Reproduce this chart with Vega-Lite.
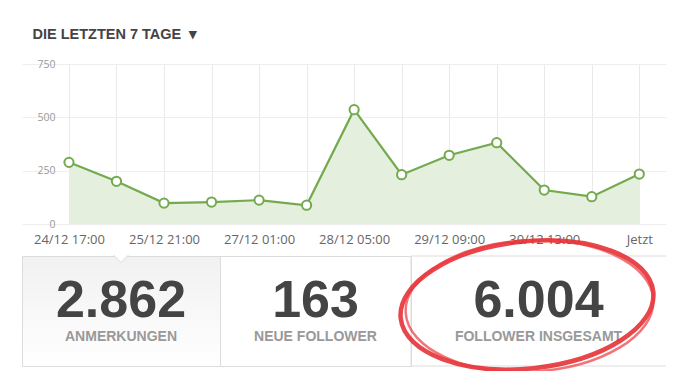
{
  "$schema": "https://vega.github.io/schema/vega-lite/v6.json",
  "background": "white",
  "padding": {"left": 21, "top": 26, "right": 0, "bottom": 0},
  "config": {
    "view": {"stroke": null},
    "font": "Liberation Sans"
  },
  "title": {
    "text": "DIE LETZTEN 7 TAGE\u00a0\u00a0▾",
    "anchor": "start",
    "dx": 11,
    "fontSize": 14.5,
    "fontWeight": "bold",
    "color": "#444444",
    "font": "Liberation Sans",
    "offset": 17
  },
  "datasets": {
    "series": [
      {"time": "2013-12-24T17:00", "count": 289},
      {"time": "2013-12-25T07:00", "count": 200},
      {"time": "2013-12-25T21:00", "count": 98},
      {"time": "2013-12-26T11:00", "count": 103},
      {"time": "2013-12-27T01:00", "count": 112},
      {"time": "2013-12-27T15:00", "count": 88},
      {"time": "2013-12-28T05:00", "count": 536},
      {"time": "2013-12-28T19:00", "count": 231},
      {"time": "2013-12-29T09:00", "count": 322},
      {"time": "2013-12-29T23:00", "count": 381},
      {"time": "2013-12-30T13:00", "count": 159},
      {"time": "2013-12-31T03:00", "count": 128},
      {"time": "2013-12-31T17:00", "count": 234}
    ],
    "stats": [
      {"key": "a", "value": "2.862", "label": "ANMERKUNGEN"},
      {"key": "b", "value": "163", "label": "NEUE FOLLOWER"},
      {"key": "c", "value": "6.004", "label": "FOLLOWER INSGESAMT"}
    ]
  },
  "bounds": "flush",
  "spacing": 32,
  "vconcat": [
    {
      "width": 644,
      "height": 160,
      "data": {"name": "series"},
      "encoding": {
        "x": {
          "field": "time",
          "type": "temporal",
          "scale": {
            "domain": [
              {"year": 2013, "month": 12, "date": 24, "hours": 3, "minutes": 10},
              {"year": 2014, "month": 1, "date": 1, "hours": 0, "minutes": 52}
            ]
          },
          "axis": {
            "title": null,
            "values": [
              {"year": 2013, "month": 12, "date": 24, "hours": 17},
              {"year": 2013, "month": 12, "date": 25, "hours": 7},
              {"year": 2013, "month": 12, "date": 25, "hours": 21},
              {"year": 2013, "month": 12, "date": 26, "hours": 11},
              {"year": 2013, "month": 12, "date": 27, "hours": 1},
              {"year": 2013, "month": 12, "date": 27, "hours": 15},
              {"year": 2013, "month": 12, "date": 28, "hours": 5},
              {"year": 2013, "month": 12, "date": 28, "hours": 19},
              {"year": 2013, "month": 12, "date": 29, "hours": 9},
              {"year": 2013, "month": 12, "date": 29, "hours": 23},
              {"year": 2013, "month": 12, "date": 30, "hours": 13},
              {"year": 2013, "month": 12, "date": 31, "hours": 3},
              {"year": 2013, "month": 12, "date": 31, "hours": 17}
            ],
            "labelExpr": "datum.value >= datetime(2013,11,31,16,0) ? 'Jetzt' : (round((datum.value - datetime(2013,11,24,17,0)) / 50400000) % 2 == 0 ? timeFormat(datum.value, '%d/%m %H:%M') : '')",
            "grid": true,
            "gridColor": "#e9e9e9",
            "domain": false,
            "ticks": false,
            "tickSize": 0,
            "labelPadding": 9,
            "labelFont": "Open Sans",
            "labelFontSize": 13,
            "labelColor": "#666666",
            "labelOverlap": false,
            "labelFlush": false
          }
        },
        "y": {
          "field": "count",
          "type": "quantitative",
          "scale": {"domain": [0, 750]},
          "axis": {
            "title": null,
            "values": [0, 250, 500, 750],
            "grid": true,
            "gridColor": "#eeeeee",
            "domain": false,
            "ticks": false,
            "tickSize": 0,
            "labelAlign": "right",
            "labelBaseline": "middle",
            "labelPadding": -33,
            "labelFont": "Open Sans",
            "labelFontSize": 10.5,
            "labelColor": "#999999"
          }
        }
      },
      "layer": [
        {"mark": {"type": "area", "color": "#e4efdd", "opacity": 1}},
        {"mark": {"type": "line", "color": "#72aa4d", "strokeWidth": 2.2}},
        {"mark": {"type": "point", "filled": true, "fill": "white", "stroke": "#72aa4d", "strokeWidth": 2, "size": 85, "opacity": 1}}
      ]
    },
    {
      "bounds": "flush",
      "spacing": 0,
      "hconcat": [
        {
          "width": 198,
          "height": 110,
          "data": {"name": "stats"},
          "transform": [{"filter": "datum.key == 'a'"}],
          "view": {
            "stroke": "#dcdcdc",
            "fill": {
              "gradient": "linear",
              "x1": 0, "y1": 0, "x2": 0, "y2": 1,
              "stops": [
                {"offset": 0, "color": "#f1f1f1"},
                {"offset": 1, "color": "#ffffff"}
              ]
            }
          },
          "layer": [
            {
              "mark": {"type": "point", "shape": "M -1 -0.5 L 0 0.5 L 1 -0.5", "size": 225, "filled": true, "fill": "white", "stroke": "#dcdcdc", "strokeWidth": 1, "opacity": 1, "yOffset": -52.25},
              "encoding": {}
            },
            {
              "mark": {"type": "text", "font": "Liberation Sans", "fontSize": 52, "fontWeight": "bold", "color": "#444444", "baseline": "alphabetic", "dy": 6},
              "encoding": {"text": {"field": "value", "type": "nominal"}}
            },
            {
              "mark": {"type": "text", "font": "Liberation Sans", "fontSize": 14, "fontWeight": "bold", "color": "#999999", "baseline": "alphabetic", "dy": 30},
              "encoding": {"text": {"field": "label", "type": "nominal"}}
            }
          ]
        },
        {
          "width": 191,
          "height": 110,
          "data": {"name": "stats"},
          "transform": [{"filter": "datum.key == 'b'"}],
          "view": {"stroke": "#dcdcdc", "fill": "white"},
          "layer": [
            {
              "mark": {"type": "text", "font": "Liberation Sans", "fontSize": 52, "fontWeight": "bold", "color": "#444444", "baseline": "alphabetic", "dy": 6},
              "encoding": {"text": {"field": "value", "type": "nominal"}}
            },
            {
              "mark": {"type": "text", "font": "Liberation Sans", "fontSize": 14, "fontWeight": "bold", "color": "#999999", "baseline": "alphabetic", "dy": 30},
              "encoding": {"text": {"field": "label", "type": "nominal"}}
            }
          ]
        },
        {
          "width": 255,
          "height": 110,
          "data": {"name": "stats"},
          "transform": [{"filter": "datum.key == 'c'"}],
          "view": {"stroke": null},
          "layer": [
            {
              "mark": {"type": "rule", "color": "#dcdcdc", "strokeWidth": 1},
              "encoding": {"y": {"datum": 1, "type": "quantitative", "scale": {"domain": [0, 1]}, "axis": null}}
            },
            {
              "mark": {"type": "rule", "color": "#dcdcdc", "strokeWidth": 1},
              "encoding": {"y": {"datum": 0, "type": "quantitative"}}
            },
            {
              "mark": {"type": "rule", "color": "#dcdcdc", "strokeWidth": 1},
              "encoding": {"x": {"datum": 0, "type": "quantitative", "scale": {"domain": [0, 1]}, "axis": null}}
            },
            {
              "mark": {"type": "text", "font": "Liberation Sans", "fontSize": 52, "fontWeight": "bold", "color": "#444444", "baseline": "alphabetic", "dy": 6},
              "encoding": {"text": {"field": "value", "type": "nominal"}}
            },
            {
              "mark": {"type": "text", "font": "Liberation Sans", "fontSize": 14, "fontWeight": "bold", "color": "#999999", "baseline": "alphabetic", "dy": 30},
              "encoding": {"text": {"field": "label", "type": "nominal"}}
            },
            {
              "mark": {"type": "point", "shape": "M 1 0 C 1 0.276 0.552 0.5 0 0.5 C -0.552 0.5 -1 0.276 -1 0 C -1 -0.276 -0.552 -0.5 0 -0.5 C 0.552 -0.5 1 -0.276 1 0 Z", "size": 64500, "filled": false, "color": "#e3262b", "strokeWidth": 4.5, "opacity": 0.85, "angle": -6, "xOffset": -11.5, "yOffset": -6},
              "encoding": {}
            },
            {
              "mark": {"type": "point", "shape": "M 1 0 C 1 0.29 0.552 0.53 0 0.53 C -0.552 0.53 -1 0.29 -1 0 C -1 -0.29 -0.552 -0.53 0 -0.53 C 0.552 -0.53 1 -0.29 1 0 Z", "size": 61500, "filled": false, "color": "#ee3a3f", "strokeWidth": 2.5, "opacity": 0.7, "angle": -3, "xOffset": -9, "yOffset": -5},
              "encoding": {}
            }
          ]
        }
      ]
    }
  ]
}
